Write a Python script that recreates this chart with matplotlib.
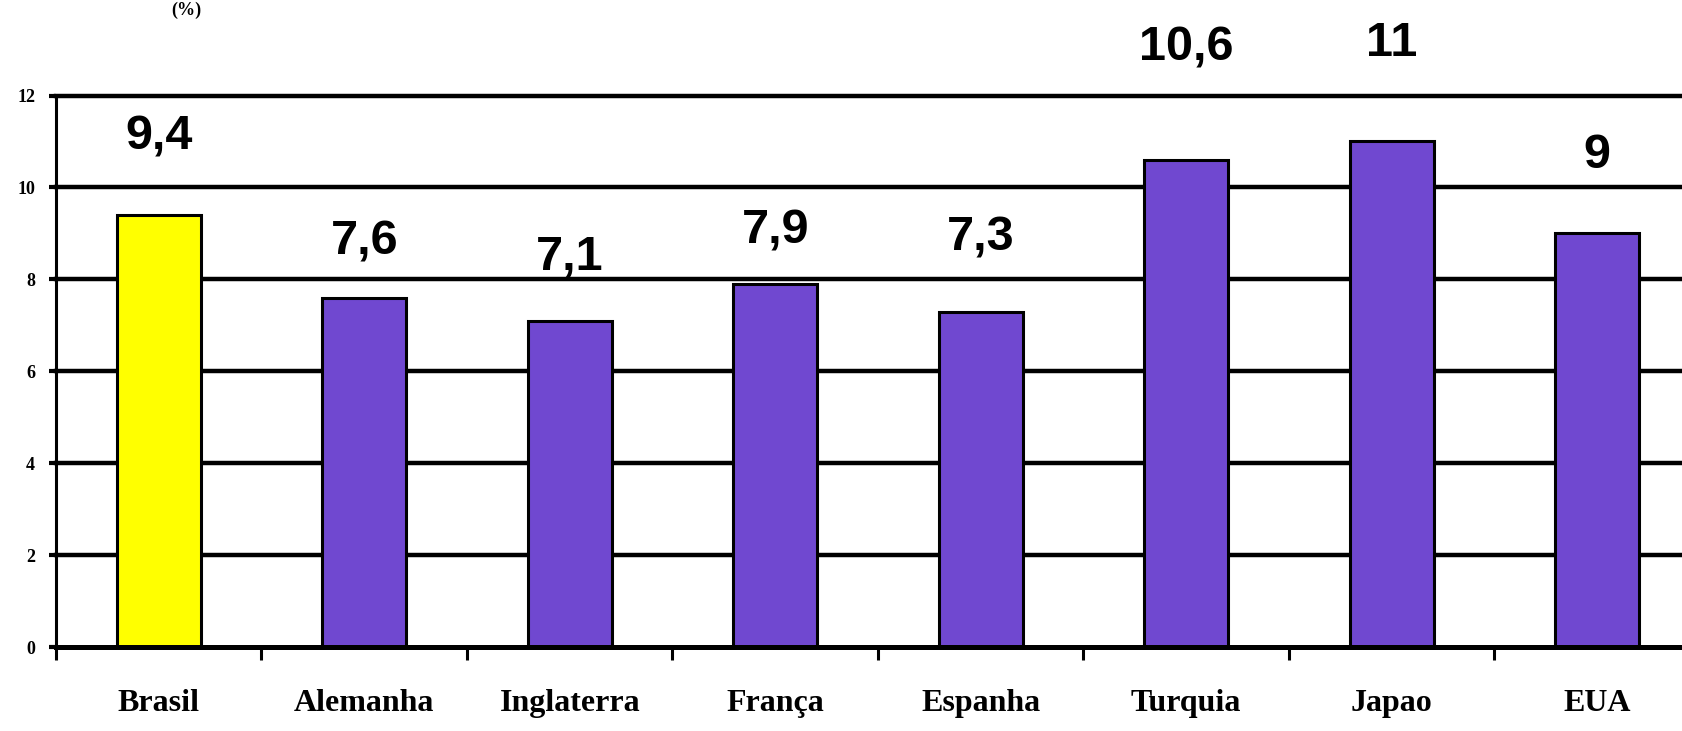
import numpy as np
import matplotlib
matplotlib.use("Agg")
import matplotlib.pyplot as plt
from matplotlib.ticker import FixedLocator

# Datos
paises = ["Brasil", "Alemanha", "Inglaterra", "França", "Espanha",
          "Turquia", "Japao", "EUA"]
valores = [9.4, 7.6, 7.1, 7.9, 7.3, 10.6, 11.0, 9.0]
etiquetas = ["9,4", "7,6", "7,1", "7,9", "7,3", "10,6", "11", "9"]
yticks = [0, 2, 4, 6, 8, 10, 12]

# Desplazamiento vertical de cada etiqueta sobre su barra (unidades del eje)
desp_etiq = [1.69, 1.21, 1.38, 1.16, 1.61, 2.43, 2.14, 1.69]

AMARILLO = "#FFFF00"
MORADO = "#7048D0"

W, H, DPI = 1683, 731, 100
fig = plt.figure(figsize=(W / DPI, H / DPI), dpi=DPI)
fig.patch.set_facecolor("white")

# el eje se sale por la derecha de la figura, como en el original
ax = fig.add_axes([56 / W, 84 / H, 1644 / W, 551.5 / H])
x = np.arange(len(paises))
colores = [AMARILLO] + [MORADO] * (len(paises) - 1)

ax.set_xlim(-0.5, len(paises) - 0.5)
ax.set_ylim(0, 12)

# rejilla horizontal gruesa (la de 12 sin recortar)
for yv in yticks[1:]:
    ax.axhline(yv, color="black", lw=3.2, zorder=1, clip_on=False)

ax.bar(x, valores, width=0.41, color=colores, edgecolor="black",
       linewidth=2.2, zorder=3)

for xi, v, txt, d in zip(x, valores, etiquetas, desp_etiq):
    ax.text(xi, v + d, txt, ha="center", va="center",
            fontsize=35, fontweight="bold", family="Liberation Sans",
            clip_on=False, zorder=4)

for s in ["top", "right"]:
    ax.spines[s].set_visible(False)
ax.spines["left"].set_linewidth(2.2)
ax.spines["bottom"].set_linewidth(3.6)
ax.spines["bottom"].set_zorder(5)

ax.set_yticks(yticks)
ax.set_yticklabels([str(v) for v in yticks], fontsize=13, fontweight="bold",
                   family="Liberation Serif")
ax.tick_params(axis="y", length=5, width=3, pad=10)

ax.set_xticks(x)
ax.set_xticklabels(paises, fontsize=23, fontweight="bold",
                   family="Liberation Serif")
ax.tick_params(axis="x", which="major", length=0, pad=30)
ax.xaxis.set_minor_locator(FixedLocator(np.arange(-0.5, len(paises), 1.0)))
ax.tick_params(axis="x", which="minor", length=9, width=2.2)

fig.text(186 / W, 1 - 2 / H, "(%)", ha="center", va="top",
         fontsize=13, fontweight="bold", family="Liberation Serif")

fig.savefig("out.png", dpi=DPI)
